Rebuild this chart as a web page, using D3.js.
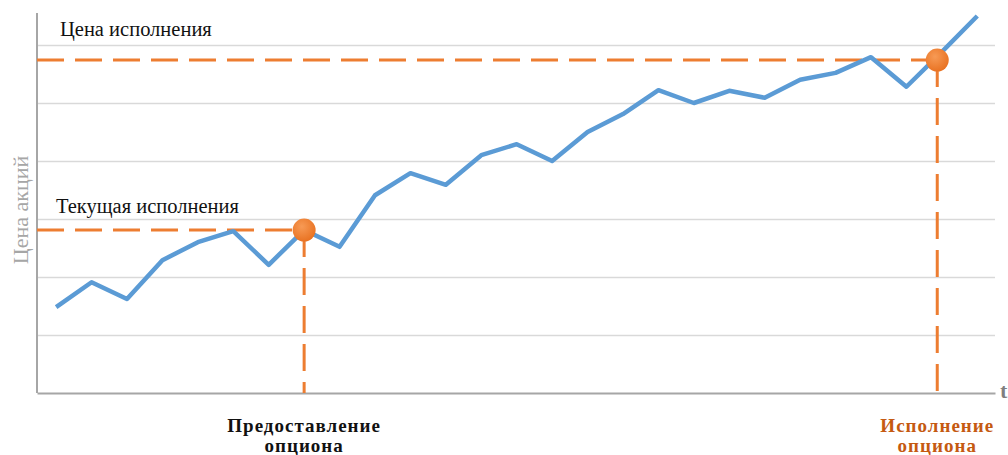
<!DOCTYPE html>
<html><head><meta charset="utf-8">
<script src="https://cdn.jsdelivr.net/npm/d3@7"></script>
<style>
html,body{margin:0;padding:0;background:#fff;}
svg{display:block;}
.serif{font-family:"Liberation Serif","Times New Roman",Tinos,"DejaVu Serif",serif;}
</style>
</head><body>
<svg id="chart" width="1008" height="455"></svg>
<script>
// Data
const timeSteps = d3.range(0, 27);
const prices = [14.8, 19.1, 16.2, 22.9, 26.0, 27.9, 22.1, 28.1, 25.2, 34.1, 37.9, 35.9, 41.0, 42.9, 40.0, 45.0, 48.1, 52.2, 50.0, 52.1, 50.9, 54.0, 55.2, 57.9, 52.8, 58.8, 65.0];
const gridValues = [10, 20, 30, 40, 50, 60];
const markerTimes = [7, 24.87];
const markerPrices = [28.1, 57.4];
const markerLabels = ["Текущая исполнения", "Цена исполнения"];
const bottomLabels = [["Предоставление", "опциона"], ["Исполнение", "опциона"]];
const yAxisLabel = "Цена акций";
const xAxisLabel = "t";

const svg = d3.select("#chart");
const x = d3.scaleLinear().domain([-0.54, 26.5]).range([37, 995]);
const y = d3.scaleLinear().domain([0, 60]).range([393, 45]);
const yTop = 65.5;

// gridlines
svg.append("g")
  .attr("transform", `translate(${x(-0.54)},0)`)
  .call(d3.axisLeft(y).tickValues(gridValues).tickSize(-(x(26.5) - x(-0.54))).tickFormat(""))
  .call(g => g.select(".domain").remove())
  .call(g => g.selectAll("line").attr("stroke", "#d9d9d9").attr("stroke-width", 1.5));

// y axis line
svg.append("line")
  .attr("x1", x(-0.54)).attr("x2", x(-0.54))
  .attr("y1", y(yTop)).attr("y2", y(0))
  .attr("stroke", "#a6a6a6").attr("stroke-width", 2);

// x axis
svg.append("g")
  .attr("transform", `translate(0,${y(0)})`)
  .call(d3.axisBottom(x).tickValues([]).tickSizeOuter(0))
  .call(g => g.select(".domain").attr("stroke", "#a6a6a6").attr("stroke-width", 2));

// dashed guide lines
const orange = "#ed7d31";
markerTimes.forEach((t, i) => {
  svg.append("line")
    .attr("x1", x(-0.54)).attr("x2", x(t))
    .attr("y1", y(markerPrices[i])).attr("y2", y(markerPrices[i]))
    .attr("stroke", orange).attr("stroke-width", 3).attr("stroke-dasharray", "27,11");
  svg.append("line")
    .attr("x1", x(t)).attr("x2", x(t))
    .attr("y1", y(markerPrices[i])).attr("y2", y(0))
    .attr("stroke", orange).attr("stroke-width", 3).attr("stroke-dasharray", "27,11");
});

// price line
svg.append("path")
  .datum(prices)
  .attr("fill", "none")
  .attr("stroke", "#5b9bd5")
  .attr("stroke-width", 4.5)
  .attr("stroke-linejoin", "round")
  .attr("d", d3.line().x((d, i) => x(timeSteps[i])).y(d => y(d)));

// markers
const defs = svg.append("defs");
const grad = defs.append("radialGradient").attr("id", "dotGrad").attr("cx", "40%").attr("cy", "35%").attr("r", "70%");
grad.append("stop").attr("offset", "0%").attr("stop-color", "#f79a55");
grad.append("stop").attr("offset", "100%").attr("stop-color", "#e8701f");
svg.selectAll("circle.marker")
  .data(markerTimes)
  .join("circle")
  .attr("class", "marker")
  .attr("cx", d => x(d))
  .attr("cy", (d, i) => y(markerPrices[i]))
  .attr("r", 11.5)
  .attr("fill", "url(#dotGrad)");

// labels
svg.append("text").attr("class", "serif").attr("x", 60).attr("y", 36)
  .attr("font-size", 20.5).attr("fill", "#111")
  .text(markerLabels[1]);
svg.append("text").attr("class", "serif").attr("x", 56).attr("y", 213)
  .attr("font-size", 20.5).attr("fill", "#111")
  .text(markerLabels[0]);

svg.append("text").attr("class", "serif")
  .attr("transform", "translate(28,210) rotate(-90)")
  .attr("text-anchor", "middle")
  .attr("font-size", 22).attr("fill", "#a6a6a6")
  .text(yAxisLabel);

svg.append("text").attr("class", "serif").attr("x", 1000).attr("y", 398)
  .attr("font-size", 22).attr("font-weight", "bold").attr("fill", "#7f7f7f")
  .text(xAxisLabel);

const bottomColors = ["#111", "#c55a11"];
bottomLabels.forEach((lines, i) => {
  const t = svg.append("text").attr("class", "serif")
    .attr("text-anchor", "middle")
    .attr("font-size", 19).attr("font-weight", "bold")
    .attr("letter-spacing", 1)
    .attr("fill", bottomColors[i]);
  lines.forEach((ln, j) => {
    t.append("tspan").attr("x", x(markerTimes[i])).attr("y", 432 + j * 20).text(ln);
  });
});
</script>
</body></html>
